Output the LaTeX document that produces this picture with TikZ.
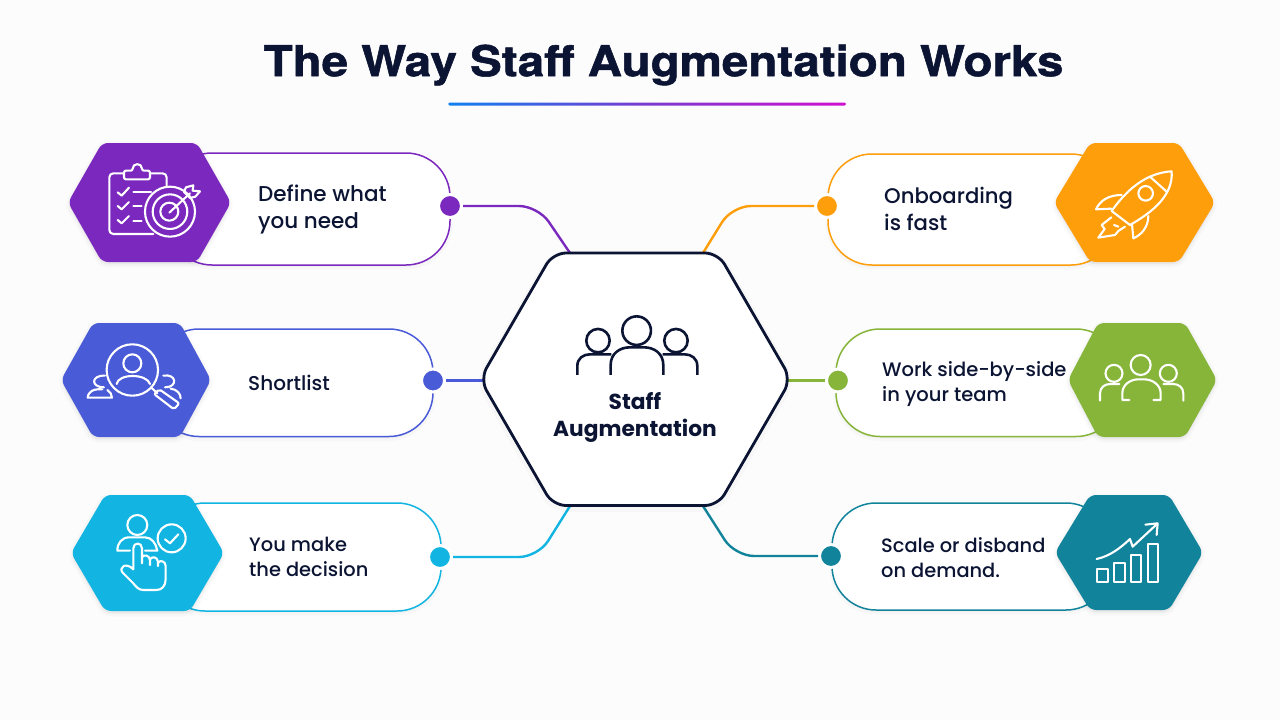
\documentclass[tikz,border=0pt]{standalone}
\usepackage{fontspec}
\setmainfont{Poppins}[UprightFont=* Medium,BoldFont=* Bold]
\newfontfamily\titlefont{TeX Gyre Heros}[BoldFeatures={FakeBold=1.2}]
\usetikzlibrary{calc}
\definecolor{bgc}{HTML}{FCFCFD}
\definecolor{ink}{HTML}{0B1433}
\definecolor{cPurple}{HTML}{7B28BE}
\definecolor{cBlue}{HTML}{4A5BD8}
\definecolor{cCyan}{HTML}{12B5E2}
\definecolor{cOrange}{HTML}{FE9E0A}
\definecolor{cGreen}{HTML}{86B53A}
\definecolor{cTeal}{HTML}{11849B}
\definecolor{gradA}{HTML}{1080F0}
\definecolor{gradB}{HTML}{7A3AD0}
\definecolor{gradC}{HTML}{D010D0}
\tikzset{
  cardbox/.style={fill=white,line width=1.5pt,rounded corners=44pt},
  conn/.style={line width=2.4pt,rounded corners=19pt},
  dotnode/.style={circle,inner sep=0pt,minimum size=23pt,draw=white,line width=3pt},
  label/.style={anchor=west,align=left,text=ink,inner sep=0pt,font=\fontsize{21.5}{27}\selectfont},
  icon/.style={draw=white,line width=2.1pt,line cap=round,line join=round},
  softshadow/.style={draw=black,fill=black,opacity=0.02,line join=round},
}
\newcommand{\hexp}[6]{(#2,#5) -- (#3,#5) -- (#4,{(#5+#6)/2}) -- (#3,#6) -- (#2,#6) -- (#1,{(#5+#6)/2}) -- cycle}
\newcommand{\hexa}[7]{%
  \path[softshadow,line width=7pt,yshift=-2pt,rounded corners=6pt] \hexp{#1}{#2}{#3}{#4}{#5}{#6};
  \path[softshadow,line width=3pt,yshift=-2pt,rounded corners=6pt] \hexp{#1}{#2}{#3}{#4}{#5}{#6};
  \fill[#7,rounded corners=6pt] \hexp{#1}{#2}{#3}{#4}{#5}{#6};}
\newcommand{\cardb}[5]{%
  \path[softshadow,line width=5pt,yshift=-2pt,rounded corners=44pt] (#1,#3) rectangle (#2,#4);
  \draw[cardbox,draw=#5] (#1,#3) rectangle (#2,#4);}
\begin{document}
\begin{tikzpicture}[x=1pt,y=-1pt]
\useasboundingbox (0,0) rectangle (1280,720);
\fill[bgc] (0,0) rectangle (1280,720);
% title
\node[text=ink,inner sep=0pt,font=\titlefont\bfseries\fontsize{42.5}{50}\selectfont] (title) at (663.5,65) {\scalebox{1.118}[1]{The Way Staff Augmentation Works}};
\shade[left color=gradA,right color=gradC,middle color=gradB,rounded corners=1.5pt] (448,102.5) rectangle (846,105.5);
% cards
\cardb{168}{450}{153}{265}{cPurple}
\cardb{155}{433}{329}{436.5}{cBlue}
\cardb{161}{441}{503}{611}{cCyan}
\cardb{828}{1115}{154}{265}{cOrange}
\cardb{836}{1120}{329}{436.5}{cGreen}
\cardb{832}{1110}{503}{610}{cTeal}
% dots
\node[dotnode,fill=cPurple] (dA) at (450,206) {};
\node[dotnode,fill=cBlue] (dB) at (433,380.5) {};
\node[dotnode,fill=cCyan] (dC) at (440,557) {};
\node[dotnode,fill=cOrange] (dD) at (827,206) {};
\node[dotnode,fill=cGreen] (dE) at (838,380.5) {};
\node[dotnode,fill=cTeal] (dF) at (831,556) {};
% centre anchors
\coordinate (cA) at (570,253);
\coordinate (cB) at (483,380.5);
\coordinate (cC) at (570,506);
\coordinate (cD) at (703,253);
\coordinate (cE) at (788,380.5);
\coordinate (cF) at (703,506);
% connectors
\draw[conn,cPurple] (dA.east) -- (538,206) -- (cA);
\draw[conn,cBlue] (dB.east) -- (cB);
\draw[conn,cCyan] (dC.east) -- (538,557) -- (cC);
\draw[conn,cOrange] (dD.west) -- (732,206) -- (cD);
\draw[conn,cGreen] (dE.west) -- (cE);
\draw[conn,cTeal] (dF.west) -- (735,556) -- (cF);
% side hexes
\hexa{68}{102}{197}{231}{143}{262}{cPurple}
\hexa{61}{93}{180}{211}{323}{437}{cBlue}
\hexa{71}{105}{190}{224}{495}{611}{cCyan}
\hexa{1054}{1090}{1179}{1215}{143}{262}{cOrange}
\hexa{1068}{1098}{1185}{1217}{323}{437}{cGreen}
\hexa{1055}{1090}{1169}{1203}{495}{610}{cTeal}
% centre hex
\path[softshadow,line width=9pt,yshift=-2pt,rounded corners=13pt] \hexp{480}{553}{718}{791}{253}{505.5};
\draw[draw=ink,fill=white,line width=2.8pt,rounded corners=13pt] \hexp{480}{553}{718}{791}{253}{505.5};
% labels
\node[label] (tA) at (258,209.5) {Define what\\you need};
\node[label,font=\fontsize{20}{24}\selectfont] (tB) at (248,383) {Shortlist};
\node[label,font=\fontsize{19.4}{25}\selectfont] (tC) at (249,557) {You make\\the decision};
\node[label,font=\fontsize{21.2}{27}\selectfont] (tD) at (884,209) {Onboarding\\is fast};
\node[label,font=\fontsize{19.5}{25}\selectfont] (tE) at (882,384.5) {Work side-by-side\\in your team};
\node[label,font=\fontsize{19.4}{25}\selectfont] (tF) at (881,557.5) {Scale or disband\\on demand.};
\node[text=ink,inner sep=0pt,align=center,font=\bfseries\fontsize{21.7}{27}\selectfont] (tC0) at (635,417) {Staff\\Augmentation};
% centre icon
\begin{scope}[shift={(470,240)},x=0.3333pt,y=-0.3333pt,draw=ink,line width=2.6pt,line join=round]
\draw (500,272) circle[radius=14.3pt];
\draw (384,302) circle[radius=11.7pt];
\draw (618,302) circle[radius=11.7pt];
\draw (422,405) -- (422,375) .. controls (422,340) and (450,322) .. (480,322) -- (522,322) .. controls (552,322) and (580,340) .. (580,375) -- (580,405);
\draw (322,405) -- (322,378) .. controls (322,355) and (340,343) .. (360,343) -- (424,343);
\draw (682,405) -- (682,378) .. controls (682,355) and (664,343) .. (644,343) -- (578,343);
\end{scope}
% icon 1
\begin{scope}[shift={(50,130)},x=0.3333pt,y=-0.3333pt,icon]
\draw[rounded corners=4pt] (222,130) -- (178,130) -- (178,312) -- (310,312);
\draw[rounded corners=4pt] (300,130) -- (350,130) -- (350,170);
\draw[rounded corners=2pt] (222,148) -- (222,122) -- (248,122) .. controls (248,98) and (276,98) .. (276,122) -- (300,122) -- (300,148) -- cycle;
\draw (203,187) -- (215,197) -- (237,173);
\draw (203,228) -- (215,238) -- (237,216);
\draw (203,270) -- (215,280) -- (237,258);
\draw (250,185) -- (303,185);
\draw (250,228) -- (275,228);
\draw (250,272) -- (275,272);
\draw (360,245) circle[radius=25pt];
\draw (360,245) circle[radius=17.3pt];
\draw (358,245) circle[radius=9pt];
\draw (358,248) -- (420,190);
\draw (402,186) -- (408,172) -- (430,166) -- (428,182) -- (450,184) -- (436,200) -- (420,204) -- cycle;
\end{scope}
% icon 2
\begin{scope}[shift={(50,310)},x=0.3333pt,y=-0.3333pt,icon]
\draw (247,180) circle[radius=25.7pt];
\draw (247,160) circle[radius=9pt];
\draw (200,222) .. controls (205,190) and (290,190) .. (300,222);
\draw (303,232) -- (322,250);
\draw[rounded corners=2pt] (312,252) -- (328,238) -- (388,280) -- (372,298) -- cycle;
\draw (165,197) .. controls (122,195) and (122,232) .. (162,232);
\draw (157,238) .. controls (125,235) and (113,250) .. (113,263) -- (186,263) .. controls (186,253) and (180,245) .. (172,240);
\draw (340,197) .. controls (380,190) and (385,232) .. (345,232);
\draw (362,236) .. controls (380,238) and (392,250) .. (392,265);
\end{scope}
% icon 3
\begin{scope}[shift={(50,480)},x=0.3333pt,y=-0.3333pt,icon]
\draw (262,135) circle[radius=10pt];
\draw (240,212) -- (202,212) .. controls (202,190) and (215,172) .. (238,172) -- (285,172) .. controls (305,172) and (318,190) .. (322,212) -- (285,212);
\draw (365,175) circle[radius=14pt];
\draw (345,178) -- (360,190) -- (385,163);
\draw (250,268) -- (250,205) .. controls (250,186) and (276,186) .. (276,205) -- (276,250)
  (276,232) .. controls (282,222) and (298,225) .. (300,240) -- (300,255)
  (300,238) .. controls (306,228) and (322,230) .. (324,245) -- (324,258)
  (324,248) .. controls (332,238) and (347,245) .. (347,258) -- (347,298) .. controls (347,318) and (335,330) .. (320,330) -- (280,330) .. controls (265,330) and (258,320) .. (250,310) -- (218,278) .. controls (205,262) and (228,245) .. (250,268);
\end{scope}
% icon 4
\begin{scope}[shift={(1020,130)},x=0.3333pt,y=-0.3333pt,icon]
\draw (455,124) .. controls (390,128) and (330,165) .. (275,243) -- (330,285) .. controls (400,245) and (460,195) .. (455,124) -- cycle;
\draw (390,140) -- (440,185);
\draw (377,190) circle[radius=7.3pt];
\draw (305,195) .. controls (265,195) and (240,212) .. (228,238) -- (274,236);
\draw (385,258) .. controls (385,290) and (365,315) .. (340,325) -- (336,282);
\draw (274,262) -- (245,285) -- (254,297) -- (235,323) -- (285,315) -- (295,303) -- (315,290);
\draw (282,285) -- (295,290);
\end{scope}
% icon 5
\begin{scope}[shift={(1020,310)},x=0.3333pt,y=-0.3333pt,icon]
\draw (362,165) circle[radius=10pt];
\draw (282,190) circle[radius=8.5pt];
\draw (445,190) circle[radius=8.5pt];
\draw (328,270) -- (307,270) -- (307,250) .. controls (307,225) and (330,208) .. (355,208) -- (372,208) .. controls (398,208) and (422,225) .. (422,250) -- (422,270) -- (400,270);
\draw (240,272) -- (240,250) .. controls (240,232) and (255,222) .. (270,222) -- (298,222);
\draw (490,272) -- (490,250) .. controls (490,232) and (475,222) .. (460,222) -- (430,222);
\end{scope}
% icon 6
\begin{scope}[shift={(1020,480)},x=0.3333pt,y=-0.3333pt,icon]
\draw (232,268) rectangle (265,306);
\draw (283,250) rectangle (315,306);
\draw (333,225) rectangle (363,306);
\draw (385,192) rectangle (415,306);
\draw (230,237) .. controls (270,228) and (300,205) .. (330,177) -- (338,200) -- (410,133);
\draw (376,134) -- (413,130) -- (410,165);
\end{scope}
\end{tikzpicture}
\end{document}
